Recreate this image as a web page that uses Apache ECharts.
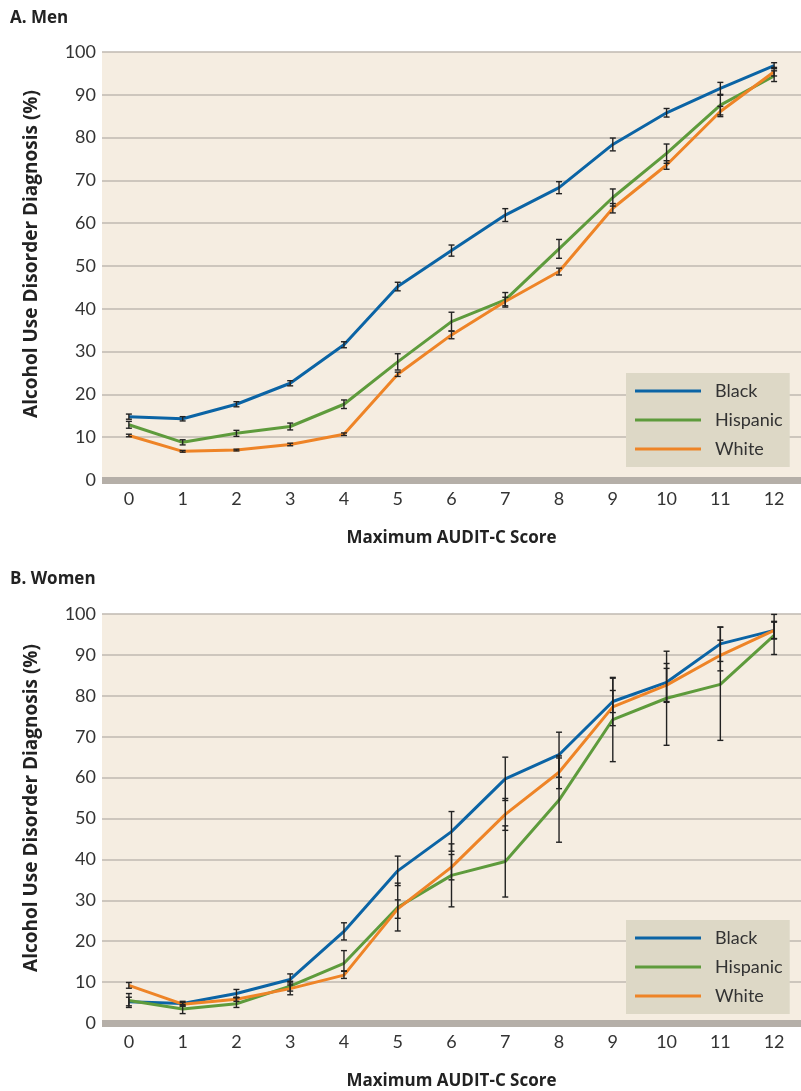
<!DOCTYPE html>
<html>
<head>
<meta charset="utf-8">
<script src="https://cdn.jsdelivr.net/npm/echarts@6/dist/echarts.min.js"></script>
<style>
html,body{margin:0;padding:0;background:#fff;}
#c{width:801px;height:1091px;}
</style>
</head>
<body>
<div id="c"></div>
<script>
// ---- Data ----
const scores = ['0','1','2','3','4','5','6','7','8','9','10','11','12'];
const seriesNames = ['Black','Hispanic','White'];
const yTicks = [0,10,20,30,40,50,60,70,80,90,100];

// A. Men
const menBlack    = [14.8,14.3,17.7,22.6,31.6,45.2,53.6,61.9,68.3,78.4,85.8,91.5,96.8];
const menBlackLo  = [14.2,13.8,17.1,22.0,30.9,44.2,52.3,60.4,66.9,76.9,84.8,90.1,96.1];
const menBlackHi  = [15.4,14.8,18.3,23.2,32.3,46.2,54.9,63.4,69.7,79.9,86.8,92.9,97.5];
const menHisp     = [12.9,8.8,10.9,12.5,17.7,27.6,37.0,42.1,54.0,66.0,76.3,87.6,94.4];
const menHispLo   = [12.1,8.2,10.2,11.7,16.7,25.7,34.8,40.4,51.8,64.0,74.0,85.3,93.1];
const menHispHi   = [13.7,9.4,11.6,13.3,18.7,29.5,39.2,43.8,56.2,68.0,78.5,89.9,95.6];
const menWhite    = [10.4,6.7,7.0,8.3,10.7,24.7,33.9,41.7,48.7,63.5,73.6,86.1,95.4];
const menWhiteLo  = [10.1,6.5,6.8,8.0,10.4,24.2,33.0,40.7,47.9,62.4,72.6,84.9,94.4];
const menWhiteHi  = [10.7,6.9,7.2,8.6,11.0,25.2,34.8,42.7,49.5,64.6,74.6,87.3,96.4];

// B. Women
const womenBlack    = [5.2,4.75,7.2,10.65,22.4,37.2,46.8,59.7,65.6,78.6,83.3,92.7,96.0];
const womenBlackLo  = [4.2,4.1,6.2,9.3,20.3,33.6,42.0,54.4,60.1,75.9,78.4,88.4,93.9];
const womenBlackHi  = [6.3,5.3,8.2,12.0,24.5,40.8,51.7,65.0,71.1,81.3,87.9,96.8,98.2];
const womenHisp     = [5.5,3.4,4.7,9.0,14.6,28.3,36.1,39.5,54.5,74.2,79.4,82.8,94.8];
const womenHispLo   = [3.8,2.3,3.8,7.8,12.7,22.5,28.4,30.8,44.2,63.9,67.9,69.1,90.1];
const womenHispHi   = [7.2,4.5,6.2,10.2,17.7,34.2,43.8,48.2,64.8,84.5,90.9,96.8,99.9];
const womenWhite    = [9.2,4.6,5.8,8.4,11.7,27.9,38.1,51.0,61.3,77.3,82.6,89.9,96.0];
const womenWhiteLo  = [8.5,4.2,5.3,6.9,10.9,25.6,35.0,47.1,57.3,72.7,78.6,86.1,94.0];
const womenWhiteHi  = [9.9,5.0,6.3,9.8,12.7,30.1,41.2,54.9,65.3,84.3,86.7,93.6,98.0];

// ---- Styles ----
const FONT = 'Lato, "Open Sans", sans-serif';
const BFONT = '"Open Sans", Lato, sans-serif';
const TEXT = '#333333';
const COLORS = ['#0b64a5', '#5e9b3c', '#ee8427'];
const PLOT_BG = '#f5ede1';
const GRID_LINE = '#bfb8b0';
const BASE = '#b5afa8';
const LEGEND_BG = '#ddd8c6';

const panels = [
  { title: 'A. Men', top: 52, height: 428, titleY: 21, legendTop: 373,
    vals: [menBlack, menHisp, menWhite], lo: [menBlackLo, menHispLo, menWhiteLo], hi: [menBlackHi, menHispHi, menWhiteHi] },
  { title: 'B. Women', top: 614, height: 412, titleY: 582, legendTop: 920,
    vals: [womenBlack, womenHisp, womenWhite], lo: [womenBlackLo, womenHispLo, womenWhiteLo], hi: [womenBlackHi, womenHispHi, womenWhiteHi] }
];

const grids = [], xAxes = [], yAxes = [], series = [], legends = [], graphics = [];

panels.forEach((p, gi) => {
  grids.push({ left: 102, right: -4, top: p.top, height: p.height, show: true,
    backgroundColor: PLOT_BG, borderWidth: 0, containLabel: false });
  xAxes.push({
    type: 'category', gridIndex: gi, data: scores, boundaryGap: true,
    axisLine: { show: true, lineStyle: { color: BASE, width: 7, cap: 'butt' } },
    axisTick: { show: false },
    axisLabel: { color: TEXT, fontSize: 18, fontFamily: FONT, margin: 10 },
    name: 'Maximum AUDIT-C Score', nameLocation: 'middle', nameGap: 50,
    nameTextStyle: { color: '#222', fontSize: 17, fontWeight: 'bold', fontFamily: BFONT }
  });
  yAxes.push({
    type: 'value', gridIndex: gi, min: 0, max: 100, interval: 10,
    axisLine: { show: false }, axisTick: { show: false },
    axisLabel: { color: TEXT, fontSize: 18, fontFamily: FONT, margin: 6,
      formatter: v => (yTicks.indexOf(v) >= 0 ? String(v) : '') },
    splitLine: { show: true, lineStyle: { color: GRID_LINE, width: 1.5 } }
  });
  seriesNames.forEach((name, si) => {
    series.push({
      type: 'line', name: name, xAxisIndex: gi, yAxisIndex: gi,
      data: p.vals[si], symbol: 'none', smooth: false,
      lineStyle: { color: COLORS[si], width: 3 }, itemStyle: { color: COLORS[si] },
      z: 3
    });
  });
  seriesNames.forEach((name, si) => {
    series.push({
      type: 'custom', xAxisIndex: gi, yAxisIndex: gi, z: 5, silent: true,
      data: scores.map((s, i) => [i, p.lo[si][i], p.hi[si][i]]),
      renderItem: function (params, api) {
        const x = api.value(0);
        const lo = api.coord([x, api.value(1)]);
        const hi = api.coord([x, api.value(2)]);
        const cw = 3;
        const st = { stroke: '#222', lineWidth: 1.4 };
        return { type: 'group', children: [
          { type: 'line', shape: { x1: lo[0], y1: lo[1], x2: hi[0], y2: hi[1] }, style: st },
          { type: 'line', shape: { x1: lo[0] - cw, y1: lo[1], x2: lo[0] + cw, y2: lo[1] }, style: st },
          { type: 'line', shape: { x1: hi[0] - cw, y1: hi[1], x2: hi[0] + cw, y2: hi[1] }, style: st }
        ]};
      }
    });
  });
  legends.push({
    data: seriesNames, orient: 'vertical', left: 626, top: p.legendTop,
    backgroundColor: LEGEND_BG, padding: [8, 7, 8, 9], itemGap: 9,
    icon: 'rect', itemWidth: 66, itemHeight: 3,
    textStyle: { color: TEXT, fontSize: 18, fontFamily: FONT, lineHeight: 20, padding: [0, 0, 0, 9] },
    selectedMode: false
  });
  graphics.push({ type: 'text', left: 10, top: p.titleY - 11,
    style: { text: p.title, fill: '#222', font: 'bold 17px ' + BFONT } });
  graphics.push({ type: 'text', x: 32, y: p.top + p.height / 2 - 12, rotation: Math.PI / 2,
    style: { text: 'Alcohol Use Disorder Diagnosis (%)', fill: '#222', font: 'bold 19px ' + BFONT,
      textAlign: 'center', textVerticalAlign: 'middle' } });
});

const chart = echarts.init(document.getElementById('c'), null, { renderer: 'canvas' });
chart.setOption({
  animation: false,
  backgroundColor: '#ffffff',
  grid: grids, xAxis: xAxes, yAxis: yAxes, series: series, legend: legends,
  graphic: graphics
});
</script>
</body>
</html>
